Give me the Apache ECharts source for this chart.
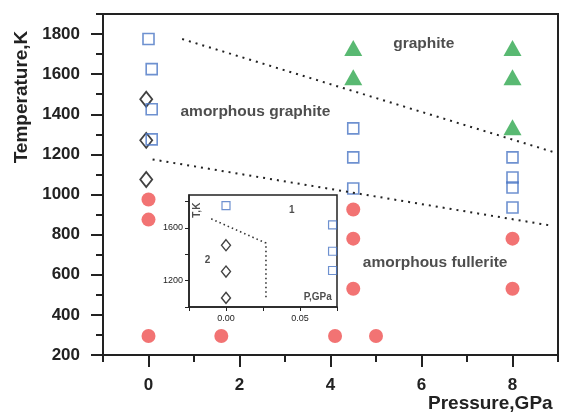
<!DOCTYPE html>
<html><head><meta charset="utf-8">
<script src="https://cdn.jsdelivr.net/npm/echarts@6/dist/echarts.min.js"></script>
<style>html,body{margin:0;padding:0;background:#fff}#c{width:562px;height:414px}</style>
</head><body><div id="c"></div>
<script>
// ---- data ----
const xMajorTicks = [0, 2, 4, 6, 8];
const xMinorTicks = [-1, 1, 3, 5, 7, 9];
const yMajorTicks = [200, 400, 600, 800, 1000, 1200, 1400, 1600, 1800];
const yMinorTicks = [300, 500, 700, 900, 1100, 1300, 1500, 1700, 1900];

const amorphGraphite = [[0, 1775], [0.07, 1625], [0.07, 1425], [0.07, 1275],
  [4.5, 1330], [4.5, 1185], [4.5, 1030],
  [8, 1185], [8, 1085], [8, 1035], [8, 935]];
const graphite = [[4.5, 1730], [4.5, 1585], [8, 1730], [8, 1585], [8, 1335]];
const diamonds = [[-0.05, 1475], [-0.05, 1270], [-0.05, 1075]];
const fullerite = [[0, 975], [0, 875], [0, 295], [1.6, 295], [4.1, 295], [5.0, 295],
  [4.5, 925], [4.5, 780], [4.5, 530], [8, 780], [8, 530]];
const upperBoundary = [[0.74, 1775], [9, 1205]];
const lowerBoundary = [[0.09, 1175], [8.85, 845]];
const mainLabels = [[6.05, 1750, 'graphite'], [2.35, 1415, 'amorphous graphite'], [6.3, 660, 'amorphous fullerite']];

const insetXTicks = [-0.025, 0, 0.025, 0.05, 0.075];
const insetXLabels = [0, 0.05];
const insetYTicks = [1000, 1200, 1400, 1600, 1800];
const insetYLabels = [1200, 1600];
const insetSquares = [[0, 1770], [0.072, 1623], [0.072, 1423], [0.072, 1277]];
const insetDiamonds = [[0, 1469], [0, 1269], [0, 1069]];
const insetBoundary = [[-0.01, 1669], [0.027, 1485], [0.027, 1060]];
const insetLabels = [[0.0445, 1731, '1'], [-0.0125, 1354, '2'], [0.062, 1072, 'P,GPa']];
const insetYName = [[-0.0195, 1735, 'T,K']];

const FONT = 'Arial, "Liberation Sans", sans-serif';
const INK = '#222';
const BLUE = '#4a76c4', RED = '#ef5050', GREEN = '#2fa84f';

const chart = echarts.init(document.getElementById('c'), null, {renderer: 'canvas'});

function mainX(extra) {
  return Object.assign({type: 'value', gridIndex: 0, min: -1, max: 9, position: 'bottom',
    splitLine: {show: false}}, extra);
}
function mainY(extra) {
  return Object.assign({type: 'value', gridIndex: 0, min: 200, max: 1900, position: 'left',
    splitLine: {show: false}}, extra);
}
const labelStyle = {color: INK, fontFamily: FONT, fontWeight: 'bold', fontSize: 17, formatter: v => String(v)};

const option = {
  animation: false,
  backgroundColor: '#fff',
  grid: [
    {left: 103, top: 14, right: 4, bottom: 59, show: true, borderColor: INK, borderWidth: 2, backgroundColor: 'transparent'},
    {left: 189, top: 195, width: 148, height: 112, show: true, borderColor: INK, borderWidth: 1.5, backgroundColor: '#fff'}
  ],
  xAxis: [
    mainX({axisLine: {onZero: false, lineStyle: {color: INK, width: 2}},
      axisTick: {customValues: xMajorTicks, length: 12, lineStyle: {color: INK, width: 2}},
      axisLabel: Object.assign({customValues: xMajorTicks, margin: 22}, labelStyle)}),
    mainX({axisLine: {show: false, onZero: false},
      axisTick: {customValues: xMinorTicks, length: 7, lineStyle: {color: INK, width: 2}},
      axisLabel: {show: false}}),
    {type: 'value', gridIndex: 1, min: -0.025, max: 0.075, position: 'bottom', splitLine: {show: false},
      axisLine: {onZero: false, lineStyle: {color: INK, width: 1.5}},
      axisTick: {customValues: insetXTicks, length: 4, lineStyle: {color: INK, width: 1}},
      axisLabel: {customValues: insetXLabels, formatter: v => Number(v).toFixed(2), fontSize: 9, color: INK, fontFamily: FONT, margin: 7}}
  ],
  yAxis: [
    mainY({axisLine: {onZero: false, lineStyle: {color: INK, width: 2}},
      axisTick: {customValues: yMajorTicks, length: 12, lineStyle: {color: INK, width: 2}},
      axisLabel: Object.assign({customValues: yMajorTicks, margin: 23}, labelStyle)}),
    mainY({axisLine: {show: false, onZero: false},
      axisTick: {customValues: yMinorTicks, length: 7, lineStyle: {color: INK, width: 2}},
      axisLabel: {show: false}}),
    {type: 'value', gridIndex: 1, min: 1000, max: 1850, position: 'left', splitLine: {show: false},
      axisLine: {onZero: false, lineStyle: {color: INK, width: 1.5}},
      axisTick: {customValues: insetYTicks, length: 4, lineStyle: {color: INK, width: 1}},
      axisLabel: {customValues: insetYLabels, formatter: v => String(v), fontSize: 9, color: INK, fontFamily: FONT, margin: 6}}
  ],
  graphic: [
    {type: 'text', x: 22, y: 97, rotation: Math.PI / 2,
      style: {text: 'Temperature,K', font: 'bold 19px ' + FONT, fill: INK, textAlign: 'center', textVerticalAlign: 'middle'}},
    {type: 'text', x: 428, y: 404,
      style: {text: 'Pressure,GPa', font: 'bold 19px ' + FONT, fill: INK, textAlign: 'left', textVerticalAlign: 'middle'}}
  ],
  series: [
    {type: 'line', xAxisIndex: 0, yAxisIndex: 0, data: upperBoundary, symbol: 'none',
      lineStyle: {color: '#222', width: 2, type: [2, 5]}},
    {type: 'line', xAxisIndex: 0, yAxisIndex: 0, data: lowerBoundary, symbol: 'none',
      lineStyle: {color: '#222', width: 2, type: [2, 5]}},
    {type: 'scatter', xAxisIndex: 0, yAxisIndex: 0, data: fullerite, symbol: 'circle', symbolSize: 14,
      itemStyle: {color: RED}},
    {type: 'scatter', xAxisIndex: 0, yAxisIndex: 0, data: graphite, symbol: 'triangle', symbolSize: [18, 16],
      itemStyle: {color: GREEN}},
    {type: 'scatter', xAxisIndex: 0, yAxisIndex: 0, data: diamonds, symbol: 'diamond', symbolSize: [12, 15],
      itemStyle: {color: 'transparent', borderColor: '#111', borderWidth: 1.8}},
    {type: 'scatter', xAxisIndex: 0, yAxisIndex: 0, data: amorphGraphite, symbol: 'rect', symbolSize: 11,
      itemStyle: {color: 'transparent', borderColor: BLUE, borderWidth: 1.6}},
    {type: 'scatter', xAxisIndex: 0, yAxisIndex: 0, data: mainLabels, symbolSize: 1,
      itemStyle: {color: 'transparent'},
      label: {show: true, position: 'inside', formatter: p => p.data[2], color: INK, fontFamily: FONT, fontWeight: 'bold', fontSize: 15.5}},
    // inset
    {type: 'line', xAxisIndex: 2, yAxisIndex: 2, data: insetBoundary, symbol: 'none', z: 5,
      lineStyle: {color: '#333', width: 1.6, type: [1.5, 3]}},
    {type: 'scatter', xAxisIndex: 2, yAxisIndex: 2, data: insetSquares, symbol: 'rect', symbolSize: 8, z: 5,
      itemStyle: {color: 'transparent', borderColor: BLUE, borderWidth: 1.2}},
    {type: 'scatter', xAxisIndex: 2, yAxisIndex: 2, data: insetDiamonds, symbol: 'diamond', symbolSize: [9, 11], z: 5,
      itemStyle: {color: 'transparent', borderColor: '#111', borderWidth: 1.4}},
    {type: 'scatter', xAxisIndex: 2, yAxisIndex: 2, data: insetLabels, symbolSize: 1, z: 5,
      itemStyle: {color: 'transparent'},
      label: {show: true, position: 'inside', formatter: p => p.data[2], color: INK, fontFamily: FONT, fontWeight: 'bold', fontSize: 10}},
    {type: 'scatter', xAxisIndex: 2, yAxisIndex: 2, data: insetYName, symbolSize: 1, z: 5,
      itemStyle: {color: 'transparent'},
      label: {show: true, position: 'inside', rotate: 90, formatter: p => p.data[2], color: INK, fontFamily: FONT, fontWeight: 'bold', fontSize: 10}}
  ]
};
chart.setOption(option);
</script>
</body></html>
